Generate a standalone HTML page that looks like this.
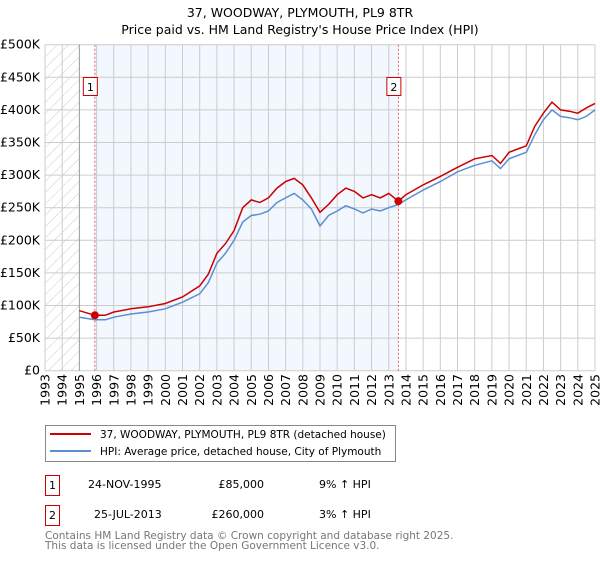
<!DOCTYPE html>
<html><head><meta charset="utf-8"><style>
body{margin:0;background:#fff;font-family:"DejaVu Sans","Liberation Sans",sans-serif;}
svg text{font-family:"DejaVu Sans","Liberation Sans",sans-serif;}
</style></head><body>
<svg id="chart" width="600" height="560" viewBox="0 0 600 560" xmlns="http://www.w3.org/2000/svg">
<defs><pattern id="hatch" width="8" height="8" patternUnits="userSpaceOnUse" patternTransform="rotate(45)"><rect width="8" height="8" fill="#fff"/><line x1="0" y1="0" x2="0" y2="8" stroke="#ccc" stroke-width="1"/></pattern></defs>
<text x="300" y="17" text-anchor="middle" font-size="12.5">37, WOODWAY, PLYMOUTH, PL9 8TR</text>
<text x="300" y="34" text-anchor="middle" font-size="12.5">Price paid vs. HM Land Registry's House Price Index (HPI)</text>
<g id="bg"></g><g id="grid"></g><g id="series"></g><g id="axes"></g>
<rect x="45.5" y="425.5" width="350" height="36" fill="#fff" stroke="#888"/>
<line x1="50" y1="434" x2="91" y2="434" stroke="#cc0000" stroke-width="2"/>
<text x="100" y="438" font-size="10.5">37, WOODWAY, PLYMOUTH, PL9 8TR (detached house)</text>
<line x1="50" y1="451" x2="91" y2="451" stroke="#5b8fd4" stroke-width="2"/>
<text x="100" y="455" font-size="10.5">HPI: Average price, detached house, City of Plymouth</text>
<rect x="45.5" y="475.5" width="14" height="20" fill="#fff" stroke="#cc0000"/>
<text x="52.5" y="489" text-anchor="middle" font-size="11">1</text>
<text x="88" y="488" font-size="11">24-NOV-1995</text>
<text x="264" y="488" text-anchor="end" font-size="11">£85,000</text>
<text x="319" y="488" font-size="11">9% ↑ HPI</text>
<rect x="45.5" y="505.5" width="14" height="20" fill="#fff" stroke="#cc0000"/>
<text x="52.5" y="519" text-anchor="middle" font-size="11">2</text>
<text x="94" y="518" font-size="11">25-JUL-2013</text>
<text x="264" y="518" text-anchor="end" font-size="11">£260,000</text>
<text x="319" y="518" font-size="11">3% ↑ HPI</text>
<text x="45" y="539" font-size="10.5" fill="#777">Contains HM Land Registry data © Crown copyright and database right 2025.</text>
<text x="45" y="549" font-size="10.5" fill="#777">This data is licensed under the Open Government Licence v3.0.</text>
</svg>
<script>
const years=[1995.0,1995.9,1996.5,1997,1998,1999,2000,2001,2002,2002.5,2003,2003.5,2004,2004.5,2005,2005.5,2006,2006.5,2007,2007.5,2008,2008.5,2009,2009.5,2010,2010.5,2011,2011.5,2012,2012.5,2013,2013.56,2014,2015,2016,2017,2018,2019,2019.5,2020,2020.5,2021,2021.5,2022,2022.5,2023,2023.5,2024,2024.5,2025];
const propertyValues=[92,85,85,90,95,98,103,113,130,148,180,195,215,250,262,258,265,280,290,295,285,265,243,255,270,280,275,265,270,265,272,260,270,285,298,312,325,330,318,335,340,345,375,395,412,400,398,395,403,410];
const hpiValues=[82,78,78,82,87,90,95,105,118,135,165,180,200,228,238,240,245,258,265,272,262,248,222,238,245,253,248,242,248,245,250,255,262,277,290,305,315,322,310,325,330,335,362,385,400,390,388,385,390,400];
const yTicks=[0,50,100,150,200,250,300,350,400,450,500];
const yTickLabels=["£0","£50K","£100K","£150K","£200K","£250K","£300K","£350K","£400K","£450K","£500K"];
const xTicks=[1993,1994,1995,1996,1997,1998,1999,2000,2001,2002,2003,2004,2005,2006,2007,2008,2009,2010,2011,2012,2013,2014,2015,2016,2017,2018,2019,2020,2021,2022,2023,2024,2025];
const saleYears=[1995.9,2013.56];
const saleValues=[85,260];
const saleLabels=["1","2"];
const X0=45,X1=595,Y0=370.7,Y1=44.7;
const x=v=>X0+(v-1993)/(2025-1993)*(X1-X0);
const y=v=>Y0-(v/500)*(Y0-Y1);
const NS="http://www.w3.org/2000/svg";
function mk(p,t,a){const e=document.createElementNS(NS,t);for(const k in a)e.setAttribute(k,a[k]);document.getElementById(p).appendChild(e);return e;}
let e;
e=mk('bg','rect',{x:x(1993),y:Y1,width:x(1995)-x(1993),height:Y0-Y1,fill:'url(#hatch)'});


e=mk('bg','rect',{x:x(saleYears[0]),y:Y1,width:x(saleYears[1])-x(saleYears[0]),height:Y0-Y1,fill:'#f3f7fe'});


yTicks.forEach((t,i)=>{
 e=mk('grid','line',{x1:X0,x2:X1,y1:y(t),y2:y(t),stroke:'#ccc','stroke-width':1});
 
 
 e=mk('axes','text',{x:40,y:y(t)+4,'text-anchor':'end','font-size':12.5});
 
 
 e.textContent=yTickLabels[i];
});
xTicks.forEach(t=>{
 e=mk('grid','line',{x1:x(t),x2:x(t),y1:Y1,y2:Y0,stroke:t==1995?'#999':'#ccc','stroke-width':1});
 
 
 e=mk('axes','text',{x:x(t)+4.5,y:374,'text-anchor':'end','font-size':12.5,transform:`rotate(-90 ${x(t)+4.5} 374)`});
 
 
 e.textContent=t;
});
function path(vals){return vals.map((v,i)=>(i?'L':'M')+x(years[i]).toFixed(1)+','+y(v).toFixed(1)).join('');}
e=mk('series','path',{d:path(hpiValues),fill:'none',stroke:'#5b8fd4','stroke-width':1.5});


e=mk('series','path',{d:path(propertyValues),fill:'none',stroke:'#cc0000','stroke-width':1.5});


saleYears.forEach((s,i)=>{
 e=mk('series','line',{x1:x(s),x2:x(s),y1:Y1,y2:Y0,stroke:'#e06060','stroke-width':1,'stroke-dasharray':'2,2'});
 
 
 e=mk('series','circle',{cx:x(s),cy:y(saleValues[i]),r:4,fill:'#cc0000'});
 
 
 e=mk('series','rect',{x:x(s)-11.5,y:77.5,width:14,height:18,fill:'#fff',stroke:'#cc0000'});
 
 
 e=mk('series','text',{x:x(s)-4.5,y:91,'text-anchor':'middle','font-size':11});
 
 
 e.textContent=saleLabels[i];
});
</script>
</body></html>
